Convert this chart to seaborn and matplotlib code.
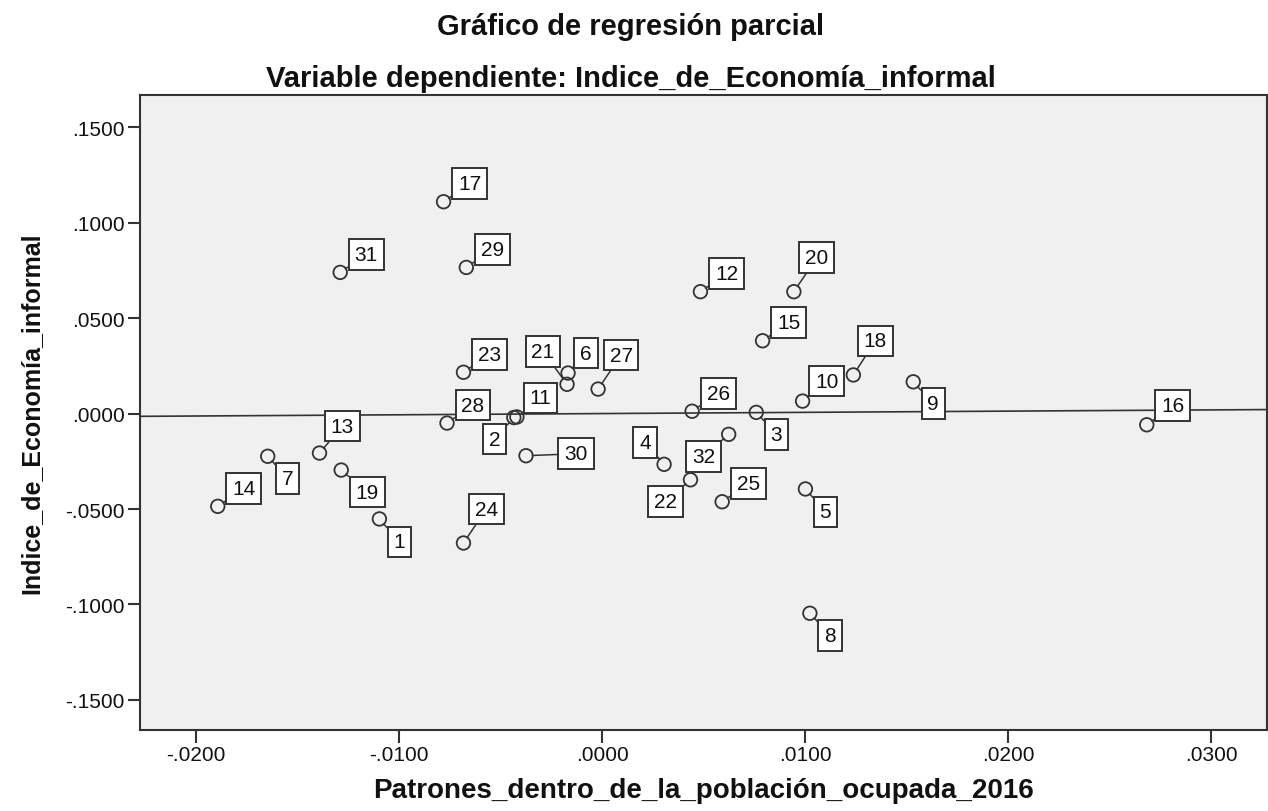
import matplotlib
matplotlib.use("Agg")
import matplotlib.pyplot as plt
import seaborn as sns
import pandas as pd

# ---------------- data ----------------
case_ids = list(range(1, 33))
x_resid = [-0.01097, -0.00435, 0.00759, 0.00305, 0.01001, -0.00168, -0.01647, 0.01023,
           0.01532, 0.00987, -0.00420, 0.00484, -0.01392, -0.01893, 0.00790, 0.02682,
           -0.00781, 0.01237, -0.01285, 0.00944, -0.00173, 0.00435, -0.00683, -0.00683,
           0.00591, 0.00443, -0.00020, -0.00764, -0.00669, -0.00375, -0.01290, 0.00623]
y_resid = [-0.0552, -0.0021, 0.0006, -0.0266, -0.0395, 0.0212, -0.0224, -0.1046,
           0.0166, 0.0065, -0.0018, 0.0638, -0.0207, -0.0486, 0.0381, -0.0059,
           0.1109, 0.0202, -0.0296, 0.0638, 0.0153, -0.0347, 0.0216, -0.0678,
           -0.0462, 0.0012, 0.0128, -0.0050, 0.0765, -0.0221, 0.0739, -0.0109]

title_main = "Gráfico de regresión parcial"
title_sub = "Variable dependiente: Indice_de_Economía_informal"
x_label = "Patrones_dentro_de_la_población_ocupada_2016"
y_label = "Indice_de_Economía_informal"
x_ticks = [-0.02, -0.01, 0.0, 0.01, 0.02, 0.03]
y_ticks = [-0.15, -0.10, -0.05, 0.0, 0.05, 0.10, 0.15]

# ---------------- layout (label box offsets, pixels) ----------------
label_offsets = {
    1: (20, -23), 2: (-19, -21.5), 3: (20, -22), 4: (-19, 22), 5: (20, -23),
    6: (18, 20), 7: (20, -22), 8: (20, -22), 9: (20, -22), 10: (24, 20),
    11: (23.5, 19), 12: (26, 18), 13: (23, 27), 14: (26, 18), 15: (26, 18),
    16: (26, 19), 17: (26, 18), 18: (22, 34), 19: (26, -22), 20: (23, 34),
    21: (-24, 33), 22: (-25, -22), 23: (26, 18), 24: (23, 34), 25: (26, 18),
    26: (26, 18), 27: (23, 34), 28: (26, 18), 29: (26, 18), 30: (50, 2),
    31: (26, 18), 32: (-25, -22),
}

df = pd.DataFrame({"case": case_ids, "x": x_resid, "y": y_resid})

sns.set_theme(style="ticks")
plt.rcParams["font.family"] = ["Liberation Sans", "DejaVu Sans"]

dark = "#333333"
fig = plt.figure(figsize=(12.68, 8.12), dpi=100)
fig.patch.set_facecolor("white")
ax = fig.add_axes([0.1104, 0.0998, 0.8888, 0.782])
ax.set_facecolor("#F0F0F0")

ax.set_xlim(-0.02276, 0.03274)
ax.set_ylim(-0.1657, 0.1668)

sns.regplot(data=df, x="x", y="y", scatter=False, ci=None, truncate=False,
            line_kws=dict(color=dark, lw=1.2, zorder=1), ax=ax)
sns.scatterplot(data=df, x="x", y="y", marker="o", s=95, facecolor="none",
                edgecolor=dark, linewidth=1.3, zorder=2, ax=ax, legend=False)

for cid, xv, yv in zip(case_ids, x_resid, y_resid):
    dx, dy = label_offsets[cid]
    ax.annotate(str(cid), xy=(xv, yv), xytext=(dx, dy), textcoords="offset pixels",
                ha="center", va="center", fontsize=15, color="#111111", zorder=4,
                bbox=dict(boxstyle="square,pad=0.28", fc="white", ec=dark, lw=1.4),
                arrowprops=dict(arrowstyle="-", color=dark, lw=1.1,
                                shrinkA=0, shrinkB=4.5))

def fmt(v):
    s = f"{v:.4f}"
    return s.replace("0.", ".", 1)

ax.set_xticks(x_ticks)
ax.set_xticklabels([fmt(v) for v in x_ticks])
ax.set_yticks(y_ticks)
ax.set_yticklabels([fmt(v) for v in y_ticks])
ax.tick_params(axis="both", direction="out", length=9, width=1.5, color=dark,
               labelsize=15, pad=2, labelcolor="#111111")

for sp in ax.spines.values():
    sp.set_visible(True)
    sp.set_color(dark)
    sp.set_linewidth(1.5)

ax.set_xlabel(x_label, fontsize=20, fontweight="bold", labelpad=9, color="#111111")
ax.set_ylabel(y_label, fontsize=18, fontweight="bold", labelpad=16, color="#111111")

fig.text(0.4976, 0.967, title_main, ha="center", va="center", fontsize=21,
         fontweight="bold", color="#111111")
fig.text(0.4976, 0.903, title_sub, ha="center", va="center", fontsize=21,
         fontweight="bold", color="#111111")

fig.savefig("out.png", dpi=100)
